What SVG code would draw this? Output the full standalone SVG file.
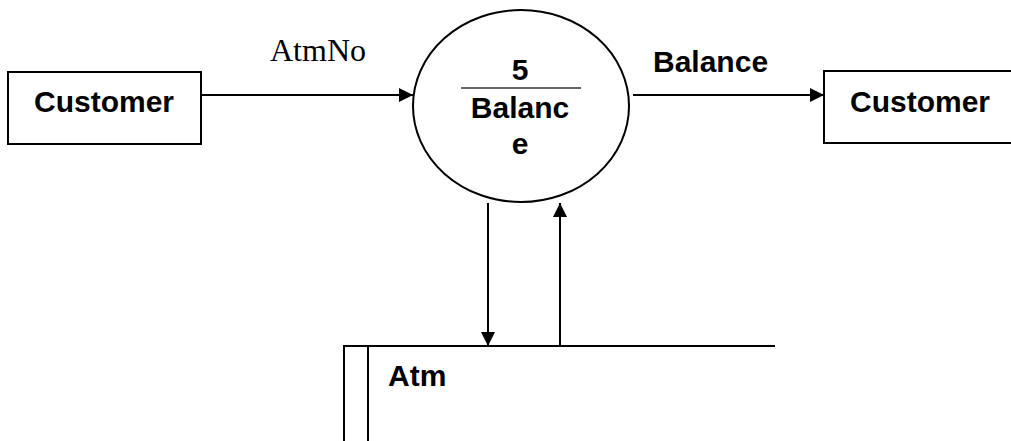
<svg xmlns="http://www.w3.org/2000/svg" width="1011" height="441" viewBox="0 0 1011 441">
<style>
.box{fill:#fff;stroke:#000;stroke-width:2}
.ln{fill:none;stroke:#000;stroke-width:2}
.lbl{font-family:"Liberation Sans",Arial,sans-serif;font-weight:bold;font-size:30px;fill:#000}
.ser{font-family:"Liberation Serif","Times New Roman",serif;font-size:32px;fill:#000}
</style>
<defs>
<marker id="ah" viewBox="0 0 14 14" refX="14" refY="7" markerWidth="14" markerHeight="14" markerUnits="userSpaceOnUse" orient="auto">
<path d="M0,0 L14,7 L0,14 Z" fill="#000"/>
</marker>
</defs>
<rect width="1011" height="441" fill="#fff"/>
<g id="connectors">
<line class="ln" x1="201" y1="95" x2="413" y2="95" marker-end="url(#ah)"/>
<line class="ln" x1="633" y1="95" x2="824" y2="95" marker-end="url(#ah)"/>
<line class="ln" x1="488" y1="203" x2="488" y2="346" marker-end="url(#ah)"/>
<line class="ln" x1="560" y1="346" x2="560" y2="203" marker-end="url(#ah)"/>
<text class="ser" x="270" y="61">AtmNo</text>
<text class="lbl" x="653" y="72">Balance</text>
</g>
<g id="customer-left">
<rect class="box" x="8" y="72" width="193" height="72"/>
<text class="lbl" x="34" y="112">Customer</text>
</g>
<g id="process-5">
<ellipse class="box" cx="521" cy="106" rx="108" ry="96"/>
<text class="lbl" x="520" y="80" text-anchor="middle">5</text>
<line x1="461" y1="88" x2="581" y2="88" stroke="#666" stroke-width="2"/>
<text class="lbl" x="520" y="118" text-anchor="middle">Balanc</text>
<text class="lbl" x="520" y="154" text-anchor="middle">e</text>
</g>
<g id="customer-right">
<rect class="box" x="824" y="71" width="200" height="72"/>
<text class="lbl" x="850" y="112">Customer</text>
</g>
<g id="store-atm">
<path class="ln" d="M775,346 L344,346 L344,441 M368,346 L368,441"/>
<text class="lbl" x="388" y="386">Atm</text>
</g>
</svg>
